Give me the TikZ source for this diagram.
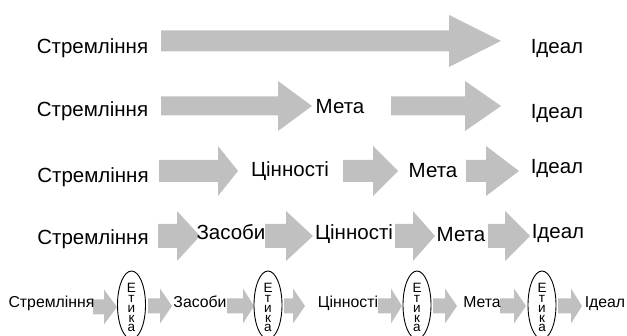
\documentclass[tikz,border=0pt]{standalone}
\usepackage{fontspec}
\setmainfont{Liberation Sans}
\usetikzlibrary{shapes.geometric}
\definecolor{arrowgray}{RGB}{192,192,192}
\tikzset{
  big/.style={font=\fontsize{20.5}{24}\selectfont, inner sep=0pt, anchor=base},
  small/.style={font=\fontsize{15.8}{19}\selectfont, inner sep=0pt, anchor=base},
  etikaell/.style={draw=black, line width=0.9pt, ellipse, minimum width=28pt, minimum height=68pt, inner sep=0pt},
  etikaletter/.style={font=\fontsize{13.5}{13.5}\selectfont, inner sep=0pt, anchor=base},
  blockarrow/.style={fill=arrowgray, draw=none}
}
% \barrow{x0}{xb}{xt}{yc}{shaft half}{head half}
\newcommand{\barrow}[6]{%
  \fill[blockarrow] (#1,#4-#5) -- (#2,#4-#5) -- (#2,#4-#6) -- (#3,#4) -- (#2,#4+#6) -- (#2,#4+#5) -- (#1,#4+#5) -- cycle;}
\begin{document}
\begin{tikzpicture}[x=1pt,y=-1pt]
\useasboundingbox (0,0) rectangle (627,336);
% Arrows (drawn first, texts on top)
\barrow{161}{449}{501}{41}{10.5}{26}
\barrow{161}{278}{312}{106}{9.5}{25}
\barrow{391}{465}{501}{106}{9.5}{25}
\barrow{159}{218}{238}{171}{11}{25}
\barrow{343}{373}{398}{171}{11}{25}
\barrow{466}{486}{519}{171}{11}{25}
\barrow{158}{177}{200}{236}{12}{25}
\barrow{265}{286}{313}{236}{12}{25}
\barrow{395}{413}{435}{236}{12}{25}
\barrow{488}{505}{530}{236}{12}{25}
\barrow{93}{104}{117}{307}{7.5}{17.5}
\barrow{148}{160}{172}{306}{7.5}{17.5}
\barrow{227}{243}{254}{306}{7.5}{17.5}
\barrow{284}{293}{305}{306}{7.5}{17.5}
\barrow{378}{391}{402}{306}{7.5}{17.5}
\barrow{433}{445}{457}{306}{7.5}{17.5}
\barrow{500}{514}{526}{306}{7.5}{17.5}
\barrow{558}{571}{582}{306}{7.5}{17.5}
% Row 1
\node[big] (r1a) at (92.5,54) {Стремління};
\node[big] (r1b) at (557,54) {Ідеал};
% Row 2
\node[big] (r2a) at (92.5,117) {Стремління};
\node[big] (r2b) at (340,114) {Мета};
\node[big] (r2c) at (557,119) {Ідеал};
% Row 3
\node[big] (r3a) at (93,183) {Стремління};
\node[big] (r3b) at (290,177) {Цінності};
\node[big] (r3c) at (433,178) {Мета};
\node[big] (r3d) at (557,174) {Ідеал};
% Row 4
\node[big] (r4a) at (93,245) {Стремління};
\node[big] (r4b) at (231,240) {Засоби};
\node[big] (r4c) at (354,240) {Цінності};
\node[big] (r4d) at (461,242) {Мета};
\node[big] (r4e) at (558,239) {Ідеал};
% Row 5
\node[small] (r5a) at (51.5,308) {Стремління};
\node[small] (r5b) at (200,308) {Засоби};
\node[small] (r5c) at (348,308) {Цінності};
\node[small] (r5d) at (482,308) {Мета};
\node[small] (r5e) at (605,308) {Ідеал};
\foreach \cx [count=\i] in {131.5,268,417,542}{
  \node[etikaell] (e\i) at (\cx,305) {};
  \node[etikaletter] (e\i l1) at (\cx,293) {Е};
  \node[etikaletter] (e\i l2) at (\cx,303) {т};
  \node[etikaletter] (e\i l3) at (\cx,313) {и};
  \node[etikaletter] (e\i l4) at (\cx,322.5) {к};
  \node[etikaletter] (e\i l5) at (\cx,332) {а};
}
\end{tikzpicture}
\end{document}
